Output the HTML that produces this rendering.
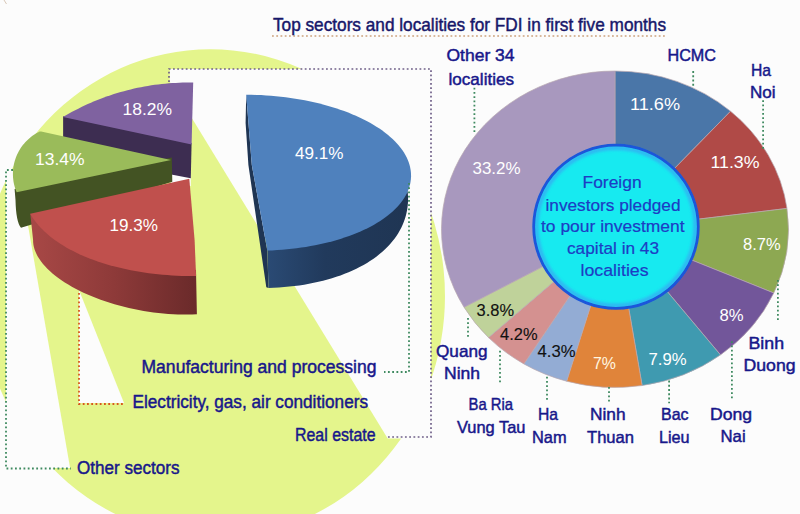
<!DOCTYPE html>
<html><head><meta charset="utf-8"><style>
html,body{margin:0;padding:0;background:#FCFCFC;width:800px;height:514px;overflow:hidden}
svg{display:block}
text{font-family:"Liberation Sans", sans-serif}
</style></head><body>
<svg width="800" height="514" viewBox="0 0 800 514" font-family='"Liberation Sans", sans-serif'><rect width="800" height="514" fill="#FCFCFC"/>
<ellipse cx="212.86" cy="293.51" rx="231.98" ry="244.36" transform="rotate(-5.972 212.86 293.51)" fill="#E4F58C"/>
<polygon points="169.8,82 169.8,69 431,69 431,438.5 387.7,438.5" fill="#FCFCFC"/>
<polygon points="79,290 124,403 79,403" fill="#FCFCFC"/>
<polygon points="6,170 18.4,170 70.1,468 6,468" fill="#FCFCFC"/>
<polygon points="171,170 190.8,170 190.8,186 171,186" fill="#FCFCFC"/>
<polygon points="63.1,116.3 191.6,143 190.8,178.3 172.5,174.7 63.1,150" fill="#3D2D51"/>
<path d="M193.20,82.61 L189.70,82.56 L186.20,82.57 L182.70,82.62 L179.20,82.72 L175.71,82.88 L172.21,83.08 L168.72,83.34 L165.24,83.64 L161.75,84.00 L158.28,84.40 L154.81,84.85 L151.34,85.36 L147.89,85.91 L144.44,86.51 L141.00,87.16 L137.57,87.86 L134.15,88.61 L130.75,89.41 L127.35,90.25 L123.97,91.15 L120.60,92.09 L117.24,93.08 L113.90,94.12 L110.57,95.20 L107.26,96.34 L103.97,97.52 L100.69,98.74 L97.43,100.02 L94.19,101.34 L90.97,102.71 L87.77,104.12 L84.58,105.58 L81.42,107.08 L78.29,108.63 L75.17,110.22 L72.08,111.86 L69.01,113.54 L65.96,115.27 L62.94,117.04 L191.6,144.5 Z" fill="#7F62A0"/>
<path d="M14.6,189 L171.8,157.5 L172.3,181.8 L21,227.8 Q16,222 15.5,200 Z" fill="#435323"/>
<path d="M171,159.9 L40,131.3 L40.03,131.36 L38.37,132.17 L36.74,133.06 L35.15,134.00 L33.60,135.01 L32.09,136.08 L30.62,137.21 L29.20,138.39 L27.83,139.63 L26.50,140.92 L25.23,142.26 L24.01,143.65 L22.84,145.09 L21.74,146.57 L20.69,148.09 L19.70,149.66 L18.78,151.26 L17.92,152.90 L17.12,154.57 L16.39,156.27 L15.73,157.99 L15.13,159.75 L14.60,161.52 L14.15,163.31 L13.76,165.12 L13.45,166.95 L13.21,168.78 L13.04,170.62 L12.94,172.47 L12.92,174.32 L12.97,176.17 L13.09,178.01 L13.28,179.85 L13.54,181.68 L13.88,183.50 L14.29,185.31 L14.77,187.10 L15.31,188.86 L15.93,190.61 L16.62,192.32 Z" fill="#9ABB5A"/>
<defs><linearGradient id="rg" gradientUnits="userSpaceOnUse" x1="30" x2="197" y1="0" y2="0"><stop offset="0" stop-color="#A84846"/><stop offset="0.5" stop-color="#8E3A39"/><stop offset="1" stop-color="#6A2A2A"/></linearGradient><linearGradient id="bg" gradientUnits="userSpaceOnUse" x1="268" x2="410" y1="0" y2="0"><stop offset="0" stop-color="#2A4A74"/><stop offset="0.4" stop-color="#213A5C"/><stop offset="1" stop-color="#1F3553"/></linearGradient></defs>
<path d="M30.3,213.75 L100,240 L196,270 L196.9,314.5 L196.65,314.20 L192.08,314.42 L187.44,314.54 L182.73,314.55 L177.95,314.46 L173.13,314.27 L168.26,313.97 L163.36,313.58 L158.44,313.08 L153.50,312.48 L148.55,311.79 L143.61,310.99 L138.68,310.10 L133.76,309.12 L128.88,308.04 L124.03,306.87 L119.23,305.62 L114.48,304.27 L109.80,302.84 L105.19,301.33 L100.65,299.74 L96.21,298.08 L91.86,296.34 L87.62,294.53 L83.49,292.66 L79.48,290.72 L75.59,288.72 L71.84,286.67 L68.23,284.56 L64.76,282.41 L61.45,280.21 L58.29,277.96 L55.30,275.69 L52.48,273.38 L49.84,271.04 L47.37,268.67 L45.09,266.29 L43.00,263.89 L41.10,261.48 L39.39,259.06 L37.89,256.64 L36.58,254.22 L35.48,251.80 L34.58,249.40 L33.89,247.01 L33.41,244.64 L33.14,242.29 L33.08,239.97 Z" fill="url(#rg)"/>
<path d="M189.3,178.8 L194.6,240 L196.10,276.08 L191.25,276.08 L186.42,276.01 L181.61,275.88 L176.81,275.68 L172.05,275.41 L167.31,275.09 L162.60,274.70 L157.92,274.24 L153.29,273.73 L148.69,273.15 L144.14,272.50 L139.63,271.80 L135.17,271.03 L130.76,270.20 L126.41,269.31 L122.11,268.36 L117.87,267.35 L113.70,266.29 L109.59,265.16 L105.55,263.98 L101.58,262.73 L97.68,261.44 L93.86,260.09 L90.11,258.68 L86.45,257.22 L82.86,255.71 L79.37,254.14 L75.95,252.53 L72.63,250.86 L69.40,249.15 L66.26,247.39 L63.22,245.59 L60.28,243.73 L57.43,241.84 L54.69,239.90 L52.04,237.92 L49.51,235.90 L47.07,233.84 L44.75,231.74 L42.53,229.61 L40.43,227.44 L38.43,225.24 L36.55,223.01 L34.79,220.74 L33.13,218.45 L31.60,216.12 L30.18,213.78 Z" fill="#C0504D"/>
<polygon points="246.2,94.6 251.8,165 267.3,250.5 268.5,288 266.3,287.2 248.4,165 245.6,123" fill="#1F3553"/>
<path d="M267.3,246 L268.5,288 L268.52,287.94 L273.78,287.75 L278.99,287.46 L284.15,287.08 L289.25,286.61 L294.29,286.04 L299.27,285.39 L304.18,284.64 L309.02,283.79 L313.78,282.86 L318.46,281.84 L323.05,280.73 L327.56,279.52 L331.97,278.24 L336.29,276.86 L340.52,275.40 L344.64,273.86 L348.65,272.23 L352.56,270.52 L356.36,268.73 L360.04,266.87 L363.60,264.92 L367.05,262.90 L370.37,260.81 L373.56,258.64 L376.63,256.40 L379.57,254.10 L382.37,251.72 L385.04,249.29 L387.57,246.78 L389.96,244.22 L392.21,241.60 L394.31,238.92 L396.28,236.19 L398.09,233.40 L399.76,230.56 L401.28,227.68 L402.64,224.75 L403.86,221.77 L404.92,218.76 L405.83,215.71 L406.59,212.62 L407.19,209.49 L407.63,206.34 L407.92,203.15 L408.06,199.94 L408.03,196.71 L407.86,193.45 L405,178 Z" fill="url(#bg)"/>
<path d="M246.20,94.69 L251.17,94.75 L256.14,94.89 L261.11,95.11 L266.06,95.39 L271.00,95.76 L275.92,96.19 L280.81,96.70 L285.67,97.28 L290.51,97.93 L295.30,98.66 L300.05,99.45 L304.75,100.32 L309.40,101.25 L313.99,102.26 L318.52,103.33 L322.99,104.47 L327.39,105.67 L331.71,106.93 L335.96,108.26 L340.12,109.65 L344.20,111.10 L348.19,112.61 L352.08,114.18 L355.88,115.81 L359.58,117.48 L363.17,119.21 L366.66,121.00 L370.03,122.83 L373.29,124.71 L376.43,126.63 L379.45,128.60 L382.35,130.61 L385.12,132.66 L387.76,134.75 L390.27,136.88 L392.65,139.04 L394.89,141.23 L396.99,143.45 L398.95,145.70 L400.77,147.98 L402.45,150.28 L403.98,152.60 L405.36,154.94 L406.60,157.30 L407.69,159.67 L408.62,162.06 L409.41,164.45 L410.04,166.86 L410.52,169.26 L410.85,171.68 L411.02,174.09 L411.04,176.50 L410.91,178.91 L410.62,181.31 L410.18,183.71 L409.58,186.09 L408.84,188.46 L407.94,190.82 L406.89,193.16 L405.69,195.47 L404.35,197.77 L402.85,200.04 L401.21,202.29 L399.43,204.51 L397.50,206.70 L395.44,208.86 L393.23,210.98 L390.89,213.06 L388.41,215.11 L385.80,217.11 L383.07,219.08 L380.20,221.00 L377.21,222.87 L374.10,224.70 L370.87,226.47 L367.53,228.20 L364.07,229.87 L360.51,231.48 L356.83,233.04 L353.06,234.55 L349.19,235.99 L345.23,237.37 L341.17,238.69 L337.03,239.95 L332.80,241.15 L328.50,242.28 L324.12,243.34 L319.67,244.33 L315.15,245.26 L310.58,246.12 L305.94,246.90 L301.25,247.62 L296.51,248.26 L291.73,248.83 L286.91,249.33 L282.05,249.76 L277.17,250.11 L272.25,250.39 L267.32,250.60 L251.8,165 Z" fill="#4F81BD"/>
<polyline points="169.0,82.0 169.0,69.0 431.0,69.0 431.0,437.0 387.0,437.0" fill="none" stroke="#6F5F88" stroke-width="1.7" stroke-dasharray="1.8 2.45"/>
<polyline points="409.0,183.0 409.0,372.0 384.0,372.0" fill="none" stroke="#3F8A60" stroke-width="1.8" stroke-dasharray="1.8 2.45"/>
<polyline points="79.0,293.0 79.0,404.0 123.0,404.0" fill="none" stroke="#D8561E" stroke-width="1.8" stroke-dasharray="1.8 2.45"/>
<polyline points="13.0,170.0 6.0,170.0 6.0,468.5 71.0,468.5" fill="none" stroke="#3F8A60" stroke-width="1.8" stroke-dasharray="1.8 2.45"/>
<polyline points="272.0,36.0 667.0,36.0" fill="none" stroke="#D8B89C" stroke-width="1.8" stroke-dasharray="1.8 2.45"/>
<path d="M615,229.25 L615.00,71.00 A173.5,158.25 0 0 1 730.55,111.20 Z" fill="#4A76A8" stroke="#B8A8B0" stroke-width="0.7"/>
<path d="M615,229.25 L730.55,111.20 A173.5,158.25 0 0 1 786.99,208.43 Z" fill="#B04A47" stroke="#B8A8B0" stroke-width="0.7"/>
<path d="M615,229.25 L786.99,208.43 A173.5,158.25 0 0 1 773.79,293.01 Z" fill="#8DA852" stroke="#B8A8B0" stroke-width="0.7"/>
<path d="M615,229.25 L773.79,293.01 A173.5,158.25 0 0 1 720.48,354.90 Z" fill="#72569A" stroke="#B8A8B0" stroke-width="0.7"/>
<path d="M615,229.25 L720.48,354.90 A173.5,158.25 0 0 1 642.14,385.55 Z" fill="#3F9AB0" stroke="#B8A8B0" stroke-width="0.7"/>
<path d="M615,229.25 L642.14,385.55 A173.5,158.25 0 0 1 566.60,381.22 Z" fill="#E0843A" stroke="#B8A8B0" stroke-width="0.7"/>
<path d="M615,229.25 L566.60,381.22 A173.5,158.25 0 0 1 523.88,363.92 Z" fill="#93ACD4" stroke="#B8A8B0" stroke-width="0.7"/>
<path d="M615,229.25 L523.88,363.92 A173.5,158.25 0 0 1 488.52,337.58 Z" fill="#D49190" stroke="#B8A8B0" stroke-width="0.7"/>
<path d="M615,229.25 L488.52,337.58 A173.5,158.25 0 0 1 464.02,307.22 Z" fill="#BFD29A" stroke="#B8A8B0" stroke-width="0.7"/>
<path d="M615,229.25 L464.02,307.22 A173.5,158.25 0 0 1 615.00,71.00 Z" fill="#A898BE" stroke="#B8A8B0" stroke-width="0.7"/>
<defs><filter id="blr" x="-20%" y="-20%" width="140%" height="140%"><feGaussianBlur stdDeviation="0.9"/></filter></defs>
<defs><filter id="blr2" x="-20%" y="-20%" width="140%" height="140%"><feGaussianBlur stdDeviation="1.6"/></filter><filter id="blr3" x="-20%" y="-20%" width="140%" height="140%"><feGaussianBlur stdDeviation="0.5"/></filter></defs>
<ellipse cx="616" cy="226.8" rx="82.5" ry="81.8" fill="#17EAF0"/>
<ellipse cx="616" cy="226.8" rx="79.5" ry="78.8" fill="none" stroke="#3C9CF2" stroke-width="4" opacity="0.7" filter="url(#blr2)"/>
<ellipse cx="616" cy="226.8" rx="82.3" ry="81.6" fill="none" stroke="#1A56DA" stroke-width="2.8" filter="url(#blr3)"/>
<line x1="4" y1="0" x2="6.5" y2="4" stroke="#D8C8B8" stroke-width="1"/>
<polyline points="474.4,87.7 474.4,132.4" fill="none" stroke="#3F8A60" stroke-width="1.8" stroke-dasharray="1.8 2.45"/>
<polyline points="693.2,71.1 693.2,85.7" fill="none" stroke="#3F8A60" stroke-width="1.8" stroke-dasharray="1.8 2.45"/>
<polyline points="763.1,100.3 763.1,148.8" fill="none" stroke="#3F8A60" stroke-width="1.8" stroke-dasharray="1.8 2.45"/>
<polyline points="777.9,280.0 777.9,322.3" fill="none" stroke="#3F8A60" stroke-width="1.8" stroke-dasharray="1.8 2.45"/>
<polyline points="731.9,341.2 731.9,399.0" fill="none" stroke="#3F8A60" stroke-width="1.8" stroke-dasharray="1.8 2.45"/>
<polyline points="669.1,380.6 669.1,403.3" fill="none" stroke="#3F8A60" stroke-width="1.8" stroke-dasharray="1.8 2.45"/>
<polyline points="609.0,386.9 609.0,402.0" fill="none" stroke="#3F8A60" stroke-width="1.8" stroke-dasharray="1.8 2.45"/>
<polyline points="547.0,376.8 547.0,400.8" fill="none" stroke="#3F8A60" stroke-width="1.8" stroke-dasharray="1.8 2.45"/>
<polyline points="500.0,350.7 500.0,383.3" fill="none" stroke="#3F8A60" stroke-width="1.8" stroke-dasharray="1.8 2.45"/>
<polyline points="468.0,318.0 468.0,336.7" fill="none" stroke="#3F8A60" stroke-width="1.8" stroke-dasharray="1.8 2.45"/>
<text x="273.00" y="31.20" font-size="17.90" fill="#17176A" textLength="393.00" lengthAdjust="spacingAndGlyphs" stroke="#17176A" stroke-width="0.45">Top sectors and localities for FDI in first five months</text>
<text x="141.50" y="372.80" font-size="17.60" fill="#17178A" textLength="235.02" lengthAdjust="spacingAndGlyphs" stroke="#17178A" stroke-width="0.45">Manufacturing and processing</text>
<text x="132.50" y="408.00" font-size="17.60" fill="#17178A" textLength="235.51" lengthAdjust="spacingAndGlyphs" stroke="#17178A" stroke-width="0.45">Electricity, gas, air conditioners</text>
<text x="295.00" y="441.30" font-size="17.60" fill="#17178A" textLength="80.51" lengthAdjust="spacingAndGlyphs" stroke="#17178A" stroke-width="0.45">Real estate</text>
<text x="77.00" y="473.75" font-size="17.60" fill="#17178A" textLength="102.50" lengthAdjust="spacingAndGlyphs" stroke="#17178A" stroke-width="0.45">Other sectors</text>
<text x="122.50" y="115.00" font-size="16.40" fill="#FFFFFF" textLength="49.57" lengthAdjust="spacingAndGlyphs" stroke="#FFFFFF" stroke-width="0.0">18.2%</text>
<text x="35.00" y="165.00" font-size="16.40" fill="#FFFFFF" textLength="49.57" lengthAdjust="spacingAndGlyphs" stroke="#FFFFFF" stroke-width="0.0">13.4%</text>
<text x="109.50" y="230.90" font-size="16.40" fill="#FFFFFF" textLength="48.54" lengthAdjust="spacingAndGlyphs" stroke="#FFFFFF" stroke-width="0.0">19.3%</text>
<text x="295.00" y="158.80" font-size="16.40" fill="#FFFFFF" textLength="48.52" lengthAdjust="spacingAndGlyphs" stroke="#FFFFFF" stroke-width="0.0">49.1%</text>
<text x="446.50" y="61.40" font-size="16.20" fill="#17178A" textLength="68.02" lengthAdjust="spacingAndGlyphs" stroke="#17178A" stroke-width="0.45">Other 34</text>
<text x="448.50" y="84.80" font-size="16.20" fill="#17178A" textLength="65.52" lengthAdjust="spacingAndGlyphs" stroke="#17178A" stroke-width="0.45">localities</text>
<text x="667.50" y="61.40" font-size="16.20" fill="#17178A" textLength="48.54" lengthAdjust="spacingAndGlyphs" stroke="#17178A" stroke-width="0.45">HCMC</text>
<text x="751.00" y="76.00" font-size="16.20" fill="#17178A" textLength="20.05" lengthAdjust="spacingAndGlyphs" stroke="#17178A" stroke-width="0.45">Ha</text>
<text x="750.00" y="98.40" font-size="16.20" fill="#17178A" textLength="25.62" lengthAdjust="spacingAndGlyphs" stroke="#17178A" stroke-width="0.45">Noi</text>
<text x="748.50" y="348.50" font-size="16.20" fill="#17178A" textLength="35.63" lengthAdjust="spacingAndGlyphs" stroke="#17178A" stroke-width="0.45">Binh</text>
<text x="743.50" y="371.00" font-size="16.20" fill="#17178A" textLength="52.05" lengthAdjust="spacingAndGlyphs" stroke="#17178A" stroke-width="0.45">Duong</text>
<text x="710.00" y="419.50" font-size="16.20" fill="#17178A" textLength="42.07" lengthAdjust="spacingAndGlyphs" stroke="#17178A" stroke-width="0.45">Dong</text>
<text x="720.50" y="442.00" font-size="16.20" fill="#17178A" textLength="25.11" lengthAdjust="spacingAndGlyphs" stroke="#17178A" stroke-width="0.45">Nai</text>
<text x="661.00" y="420.20" font-size="16.20" fill="#17178A" textLength="27.54" lengthAdjust="spacingAndGlyphs" stroke="#17178A" stroke-width="0.45">Bac</text>
<text x="659.00" y="443.00" font-size="16.20" fill="#17178A" textLength="30.63" lengthAdjust="spacingAndGlyphs" stroke="#17178A" stroke-width="0.45">Lieu</text>
<text x="590.00" y="420.20" font-size="16.20" fill="#17178A" textLength="35.61" lengthAdjust="spacingAndGlyphs" stroke="#17178A" stroke-width="0.45">Ninh</text>
<text x="587.00" y="443.00" font-size="16.20" fill="#17178A" textLength="47.01" lengthAdjust="spacingAndGlyphs" stroke="#17178A" stroke-width="0.45">Thuan</text>
<text x="538.00" y="419.70" font-size="16.20" fill="#17178A" textLength="20.03" lengthAdjust="spacingAndGlyphs" stroke="#17178A" stroke-width="0.45">Ha</text>
<text x="532.00" y="442.50" font-size="16.20" fill="#17178A" textLength="34.56" lengthAdjust="spacingAndGlyphs" stroke="#17178A" stroke-width="0.45">Nam</text>
<text x="468.50" y="410.40" font-size="16.20" fill="#17178A" textLength="44.51" lengthAdjust="spacingAndGlyphs" stroke="#17178A" stroke-width="0.45">Ba Ria</text>
<text x="457.00" y="433.10" font-size="16.20" fill="#17178A" textLength="68.51" lengthAdjust="spacingAndGlyphs" stroke="#17178A" stroke-width="0.45">Vung Tau</text>
<text x="436.00" y="356.90" font-size="16.20" fill="#17178A" textLength="51.52" lengthAdjust="spacingAndGlyphs" stroke="#17178A" stroke-width="0.45">Quang</text>
<text x="444.00" y="378.60" font-size="16.20" fill="#17178A" textLength="36.07" lengthAdjust="spacingAndGlyphs" stroke="#17178A" stroke-width="0.45">Ninh</text>
<text x="630.00" y="109.75" font-size="16.40" fill="#FFFFFF" textLength="50.09" lengthAdjust="spacingAndGlyphs" stroke="#FFFFFF" stroke-width="0.0">11.6%</text>
<text x="710.50" y="168.40" font-size="16.40" fill="#FFFFFF" textLength="49.05" lengthAdjust="spacingAndGlyphs" stroke="#FFFFFF" stroke-width="0.0">11.3%</text>
<text x="743.00" y="249.90" font-size="16.40" fill="#FFFFFF" textLength="37.54" lengthAdjust="spacingAndGlyphs" stroke="#FFFFFF" stroke-width="0.0">8.7%</text>
<text x="719.50" y="320.70" font-size="16.40" fill="#FFFFFF" textLength="24.11" lengthAdjust="spacingAndGlyphs" stroke="#FFFFFF" stroke-width="0.0">8%</text>
<text x="648.50" y="364.60" font-size="16.40" fill="#FFFFFF" textLength="38.04" lengthAdjust="spacingAndGlyphs" stroke="#FFFFFF" stroke-width="0.0">7.9%</text>
<text x="593.00" y="368.70" font-size="16.40" fill="#FFF6E0" textLength="23.02" lengthAdjust="spacingAndGlyphs" stroke="#FFF6E0" stroke-width="0.0">7%</text>
<text x="537.50" y="356.50" font-size="16.40" fill="#111111" textLength="38.02" lengthAdjust="spacingAndGlyphs" stroke="#111111" stroke-width="0.15">4.3%</text>
<text x="500.00" y="340.40" font-size="16.40" fill="#111111" textLength="37.51" lengthAdjust="spacingAndGlyphs" stroke="#111111" stroke-width="0.15">4.2%</text>
<text x="476.50" y="315.50" font-size="16.40" fill="#111111" textLength="37.51" lengthAdjust="spacingAndGlyphs" stroke="#111111" stroke-width="0.15">3.8%</text>
<text x="472.50" y="173.90" font-size="16.40" fill="#FFFFFF" textLength="48.03" lengthAdjust="spacingAndGlyphs" stroke="#FFFFFF" stroke-width="0.0">33.2%</text>
<text x="582.50" y="188.00" font-size="16.40" fill="#1D3CC4" textLength="59.07" lengthAdjust="spacingAndGlyphs" stroke="#1D3CC4" stroke-width="0.2">Foreign</text>
<text x="545.50" y="210.70" font-size="16.40" fill="#1D3CC4" textLength="135.03" lengthAdjust="spacingAndGlyphs" stroke="#1D3CC4" stroke-width="0.2">investors pledged</text>
<text x="541.00" y="231.60" font-size="16.40" fill="#1D3CC4" textLength="143.51" lengthAdjust="spacingAndGlyphs" stroke="#1D3CC4" stroke-width="0.2">to pour investment</text>
<text x="567.00" y="254.40" font-size="16.40" fill="#1D3CC4" textLength="92.03" lengthAdjust="spacingAndGlyphs" stroke="#1D3CC4" stroke-width="0.2">capital in 43</text>
<text x="580.50" y="276.20" font-size="16.40" fill="#1D3CC4" textLength="68.08" lengthAdjust="spacingAndGlyphs" stroke="#1D3CC4" stroke-width="0.2">localities</text></svg>
</body></html>
